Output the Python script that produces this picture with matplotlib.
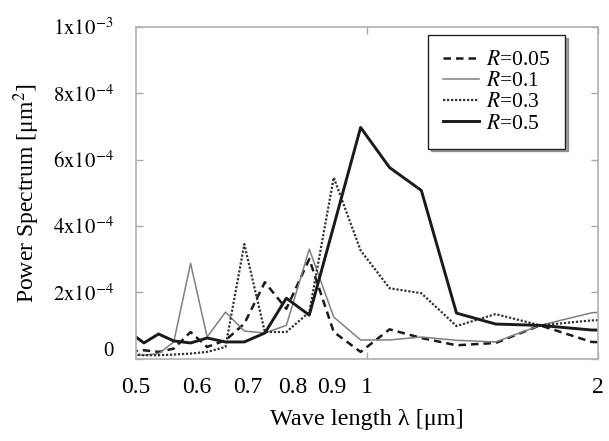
import numpy as np
import matplotlib.pyplot as plt
from matplotlib.ticker import FixedLocator, FixedFormatter
from matplotlib.transforms import ScaledTranslation

plt.rcParams['font.family'] = ['Liberation Serif', 'DejaVu Serif']
plt.rcParams['mathtext.fontset'] = 'stix'

# sampled wavelengths [um] (read from the vertex positions)
wavelength = [2.354, 1.962, 1.681, 1.471, 1.308, 1.177, 1.070, 0.981, 0.905, 0.841,
              0.785, 0.736, 0.692, 0.654, 0.619, 0.589, 0.560, 0.535, 0.512, 0.490]

# power spectrum values in units of 1e-4 um^2
r005 = [0.45, 0.50, 1.00, 0.47, 0.40, 0.62, 0.88, 0.20, 0.80, 3.00,
        1.50, 2.30, 1.05, 0.55, 0.35, 0.80, 0.30, 0.20, 0.25, 0.20]
r01 = [1.50, 1.38, 1.00, 0.50, 0.55, 0.65, 0.56, 0.56, 1.25, 3.30,
       1.00, 0.77, 0.83, 1.40, 0.65, 2.87, 0.50, 0.15, 0.10, 0.10]
r03 = [1.20, 1.15, 1.00, 1.34, 0.98, 1.97, 2.12, 3.26, 5.46, 1.40,
       0.80, 0.80, 3.45, 0.35, 0.20, 0.15, 0.12, 0.10, 0.10, 0.15]
r05 = [0.85, 0.86, 1.00, 1.04, 1.37, 5.07, 5.76, 6.97, 4.00, 1.31,
       1.82, 0.77, 0.50, 0.50, 0.62, 0.47, 0.53, 0.74, 0.47, 0.80]

labels = ['$R$=0.05', '$R$=0.1', '$R$=0.3', '$R$=0.5']
xtick_major = [1, 2]
xtick_minor = [0.5, 0.6, 0.7, 0.8, 0.9]
yticks = [0, 2e-4, 4e-4, 6e-4, 8e-4, 1e-3]
ytick_labels = ['0', r'$2\mathrm{x}10^{-4}$', r'$4\mathrm{x}10^{-4}$', r'$6\mathrm{x}10^{-4}$',
                r'$8\mathrm{x}10^{-4}$', r'$1\mathrm{x}10^{-3}$']

fig = plt.figure(figsize=(6.09, 4.41), dpi=100)
ax = fig.add_axes([0.2233, 0.187, 0.7587, 0.7518])

wl = np.array(wavelength)
ax.plot(wl, np.array(r005) * 1e-4, color='#1a1a1a', lw=1.8, dashes=(3, 2), label=labels[0])
ax.plot(wl, np.array(r01) * 1e-4, color='#808080', lw=1.1, label=labels[1])
ax.plot(wl, np.array(r03) * 1e-4, color='#333333', lw=1.6, dashes=(1, 0.8), label=labels[2])
ax.plot(wl, np.array(r05) * 1e-4, color='#1a1a1a', lw=2.1, label=labels[3])

ax.set_xscale('log')
ax.set_xlim(0.5, 2)
ax.set_ylim(0, 1e-3)

ax.xaxis.set_major_locator(FixedLocator(xtick_major))
ax.xaxis.set_major_formatter(FixedFormatter([str(v) for v in xtick_major]))
ax.xaxis.set_minor_locator(FixedLocator(xtick_minor))
ax.xaxis.set_minor_formatter(FixedFormatter([str(v) for v in xtick_minor]))
ax.set_yticks(yticks)
ax.set_yticklabels(ytick_labels)

ax.tick_params(which='major', direction='in', length=5, width=1, color='#aaaaaa',
               top=True, right=True)
ax.tick_params(axis='x', which='both', labelsize=17, pad=13)
ax.tick_params(axis='x', which='minor', length=0)
ax.tick_params(axis='y', labelsize=15, pad=16)
for s in ax.spines.values():
    s.set_color('#b0b0b0')
    s.set_linewidth(1.2)

# the "0" label sits a bit above the axis bottom in the original
zero_lbl = ax.get_yticklabels()[0]
zero_lbl.set_transform(zero_lbl.get_transform() + ScaledTranslation(0, 0.10, fig.dpi_scale_trans))

ax.set_xlabel('Wave length λ [μm]', fontsize=17.5, labelpad=8)
ax.set_ylabel('Power Spectrum [μm$^2$]', fontsize=17, labelpad=8)

leg = ax.legend(loc='upper right', bbox_to_anchor=(0.929, 0.976), borderaxespad=0,
                fontsize=15.5, frameon=True, fancybox=False, shadow=True,
                handlelength=1.7, handletextpad=0.3, labelspacing=0.05, borderpad=0.7)
leg.get_frame().set_edgecolor('#222222')
leg.get_frame().set_linewidth(1.0)

fig.savefig('out.png', dpi=100)
